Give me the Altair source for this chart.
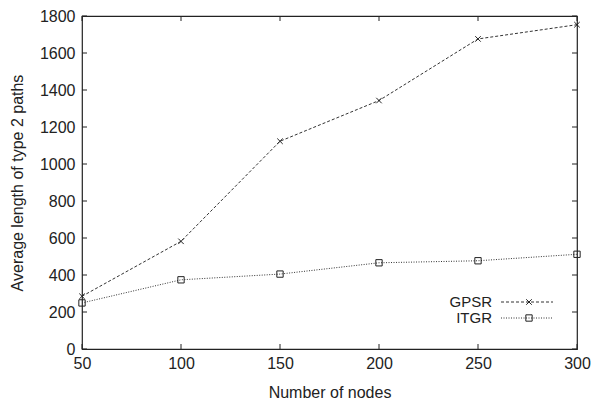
import altair as alt
import pandas as pd

nodes = [50, 100, 150, 200, 250, 300]
gpsr = [285, 582, 1123, 1343, 1676, 1753]
itgr = [249, 374, 405, 466, 477, 512]
x_ticks = [50, 100, 150, 200, 250, 300]
y_ticks = [0, 200, 400, 600, 800, 1000, 1200, 1400, 1600, 1800]
series_names = ["GPSR", "ITGR"]
x_title = "Number of nodes"
y_title = "Average length of type 2 paths"

W, H = 495, 333
FONT = "Liberation Sans"
INK = "#222222"

df = pd.DataFrame({
    "nodes": nodes * 2,
    "value": gpsr + itgr,
    "series": [series_names[0]] * len(nodes) + [series_names[1]] * len(nodes),
})
xt = pd.DataFrame({"t": x_ticks})
yt = pd.DataFrame({"t": y_ticks})

xs = alt.Scale(domain=[50, 300], nice=False, zero=False)
ys = alt.Scale(domain=[0, 1800], nice=False)

common_axis = dict(ticks=False, domain=False, grid=False, labelOverlap=False,
                   labelFlush=False, labelBound=False, labelFont=FONT, titleFont=FONT,
                   labelFontSize=16, titleFontSize=16, labelColor=INK, titleColor=INK,
                   titleFontWeight="normal", format="d")
xaxis = alt.Axis(values=x_ticks, labelPadding=6, titlePadding=13, **common_axis)
yaxis = alt.Axis(values=y_ticks, labelPadding=7, titlePadding=14, **common_axis)


def X(field):
    return alt.X(field, type="quantitative", scale=xs, axis=xaxis, title=x_title)


def Y(field):
    return alt.Y(field, type="quantitative", scale=ys, axis=yaxis, title=y_title)


base = alt.Chart(df)
cross_path = "M-1,-1L1,1M1,-1L-1,1"

g = base.transform_filter(alt.datum.series == "GPSR")
i = base.transform_filter(alt.datum.series == "ITGR")
g_line = g.mark_line(color="#333333", strokeWidth=1, strokeDash=[3, 2]).encode(
    x=X("nodes"), y=Y("value"))
g_pts = g.mark_point(shape=cross_path, size=30, color="#222222", strokeWidth=1,
                     filled=False, opacity=1).encode(x=X("nodes"), y=Y("value"))
i_line = i.mark_line(color="#333333", strokeWidth=1, strokeDash=[1, 1.5]).encode(
    x=X("nodes"), y=Y("value"))
i_pts = i.mark_point(shape="square", size=40, color="#222222", strokeWidth=1,
                     filled=False, opacity=1).encode(x=X("nodes"), y=Y("value"))

# inward ticks (gnuplot style)
tick_style = dict(color="#222222", strokeWidth=1)
xb = alt.Chart(xt).mark_rule(**tick_style).encode(
    x=X("t"), y=alt.value(H), y2=alt.value(H - 5))
xtop = alt.Chart(xt).mark_rule(**tick_style).encode(
    x=X("t"), y=alt.value(0), y2=alt.value(5))
yl = alt.Chart(yt).mark_rule(**tick_style).encode(
    y=Y("t"), x=alt.value(0), x2=alt.value(5))
yr = alt.Chart(yt).mark_rule(**tick_style).encode(
    y=Y("t"), x=alt.value(W), x2=alt.value(W - 5))

# legend (inside bottom right)
lx_text = 410
lx0, lx1, lxm = 419, 471, 447
ly = {"GPSR": 286, "ITGR": 302}
leg_layers = []
for name, dash, shape, size in [("GPSR", [3, 2], cross_path, 30), ("ITGR", [1, 1.5], "square", 40)]:
    d = alt.Chart(pd.DataFrame({"series": [name]}))
    leg_layers.append(d.mark_text(align="right", baseline="middle", font=FONT, fontSize=15,
                                  color=INK).encode(text="series:N", x=alt.value(lx_text),
                                                    y=alt.value(ly[name])))
    leg_layers.append(d.mark_rule(color="#333333", strokeWidth=1, strokeDash=dash).encode(
        x=alt.value(lx0), x2=alt.value(lx1), y=alt.value(ly[name])))
    leg_layers.append(d.mark_point(shape=shape, size=size, color="#222222", strokeWidth=1,
                                   filled=False, opacity=1).encode(
        x=alt.value(lxm), y=alt.value(ly[name])))

chart = alt.layer(g_line, i_line, g_pts, i_pts, xb, xtop, yl, yr, *leg_layers).properties(
    width=W, height=H,
    autosize=alt.AutoSizeParams(type="none"),
    padding={"left": 74, "top": 8, "right": 14, "bottom": 54},
    background="white",
).configure_view(stroke="#222222", strokeWidth=1.2)

chart.save("out.html", embed_options={"renderer": "svg", "actions": False})
